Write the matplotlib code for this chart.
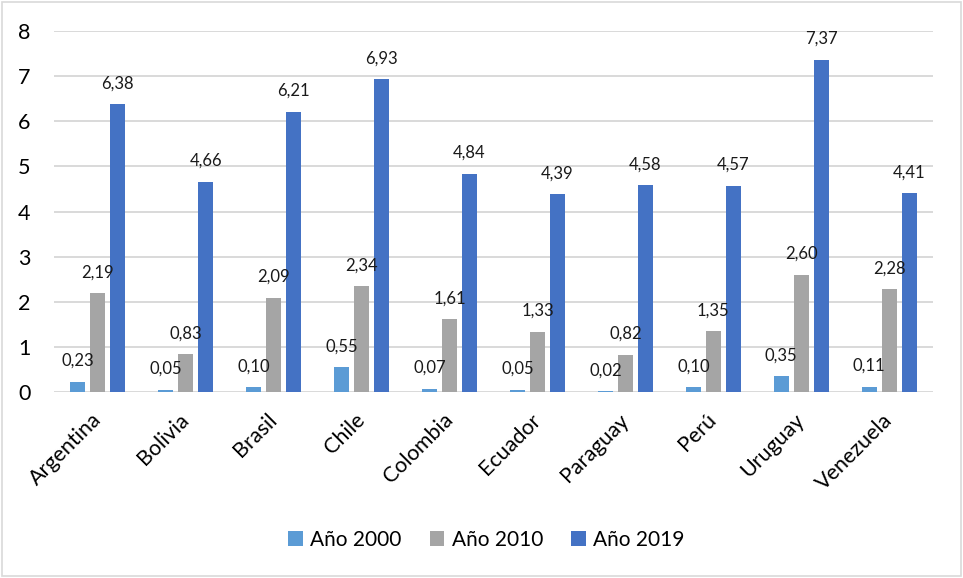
import matplotlib
matplotlib.use("Agg")
import matplotlib.pyplot as plt
import numpy as np
from matplotlib.patches import Rectangle

plt.rcParams['font.family'] = ['Lato', 'DejaVu Sans']

countries = ["Argentina", "Bolivia", "Brasil", "Chile", "Colombia",
             "Ecuador", "Paraguay", "Perú", "Uruguay", "Venezuela"]
series_names = ["Año 2000", "Año 2010", "Año 2019"]
vals_2000 = [0.23, 0.05, 0.10, 0.55, 0.07, 0.05, 0.02, 0.10, 0.35, 0.11]
vals_2010 = [2.19, 0.83, 2.09, 2.34, 1.61, 1.33, 0.82, 1.35, 2.60, 2.28]
vals_2019 = [6.38, 4.66, 6.21, 6.93, 4.84, 4.39, 4.58, 4.57, 7.37, 4.41]
y_ticks = [0, 1, 2, 3, 4, 5, 6, 7, 8]

colors = ["#5B9BD5", "#A5A5A5", "#4472C4"]

fig = plt.figure(figsize=(9.63, 5.78), dpi=100)
ax = fig.add_axes([0.056, 0.322, 0.913, 0.624])

x = np.arange(len(countries))
width = 0.17
step = 0.227
all_series = [vals_2000, vals_2010, vals_2019]
for i, (vals, name, c) in enumerate(zip(all_series, series_names, colors)):
    pos = x + (i - 1) * step
    ax.bar(pos, vals, width=width, color=c, label=name, zorder=3)
    for xp, v in zip(pos, vals):
        ax.annotate(f"{v:.2f}".replace(".", ","), (xp, v),
                    xytext=(0, 15), textcoords="offset points",
                    ha="center", va="center", fontsize=12, color="#1a1a1a",
                    zorder=6)

ax.set_xlim(-0.5, len(countries) - 0.5)
ax.set_ylim(0, 8)
ax.set_yticks(y_ticks)
ax.set_yticklabels([str(t) for t in y_ticks], fontsize=15.5)
ax.tick_params(axis="y", length=0, pad=17)
ax.set_xticks(x)
ax.set_xticklabels(countries, rotation=45, ha="right", va="center",
                   rotation_mode="anchor", fontsize=15.5)
ax.tick_params(axis="x", length=0, pad=18)
ax.grid(axis="y", color="#D9D9D9", linewidth=1.4, zorder=0)
for s in ax.spines.values():
    s.set_visible(False)

leg = ax.legend(loc="center", ncol=3, frameon=False, fontsize=15,
                handlelength=0.7, handleheight=0.7,
                handletextpad=0.35, columnspacing=1.35)
leg.set_bbox_to_anchor((0.505, 1 - 540 / 578), transform=fig.transFigure)

fig.patches.append(Rectangle((0.002, 0.003), 0.996, 0.994, transform=fig.transFigure,
                             fill=False, edgecolor="#D9D9D9", linewidth=1.2))

fig.savefig("out.png", dpi=100)
